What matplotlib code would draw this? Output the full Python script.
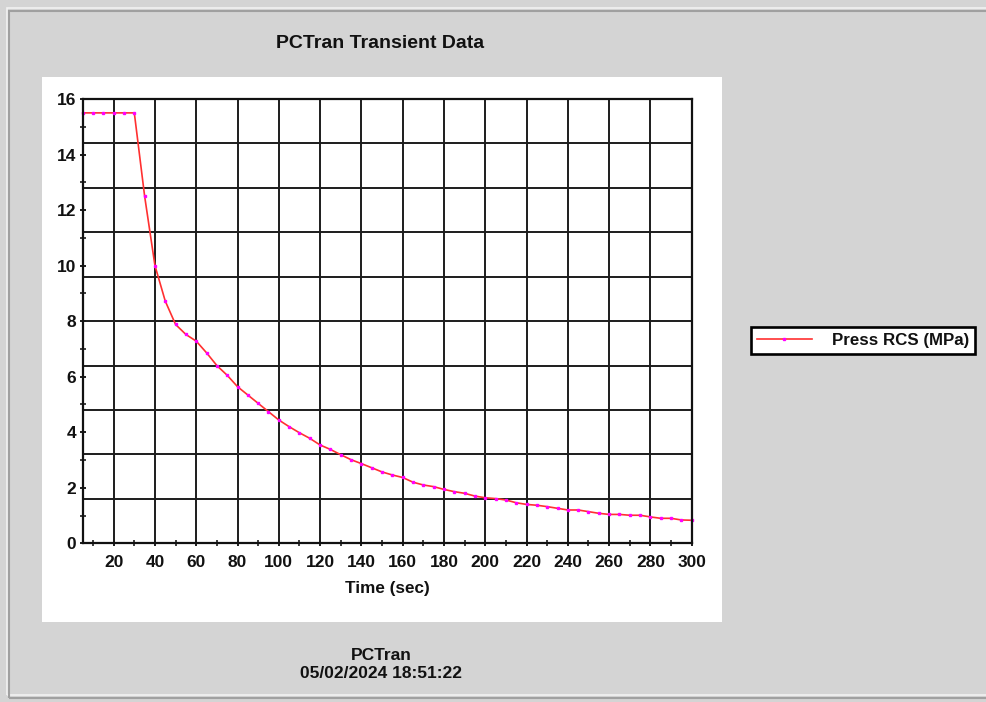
import matplotlib
matplotlib.use("Agg")
import matplotlib.pyplot as plt
import numpy as np
from matplotlib.patches import Rectangle

# ---------------- data ----------------
time_sec = [5, 10, 15, 20, 25, 30, 35, 40, 45, 50,
            55, 60, 65, 70, 75, 80, 85, 90, 95, 100,
            105, 110, 115, 120, 125, 130, 135, 140, 145, 150,
            155, 160, 165, 170, 175, 180, 185, 190, 195, 200,
            205, 210, 215, 220, 225, 230, 235, 240, 245, 250,
            255, 260, 265, 270, 275, 280, 285, 290, 295, 300]
press_rcs = [15.5, 15.5, 15.5, 15.5, 15.5, 15.5, 12.5, 10.0, 8.72, 7.88,
             7.52, 7.28, 6.86, 6.40, 6.05, 5.64, 5.34, 5.04, 4.74, 4.44,
             4.20, 3.98, 3.78, 3.54, 3.38, 3.19, 3.01, 2.87, 2.72, 2.57,
             2.46, 2.37, 2.20, 2.10, 2.04, 1.94, 1.86, 1.80, 1.70, 1.64,
             1.61, 1.56, 1.46, 1.40, 1.37, 1.32, 1.26, 1.20, 1.20, 1.14,
             1.08, 1.04, 1.04, 1.01, 1.01, 0.95, 0.90, 0.90, 0.84, 0.83]

x_major_ticks = [20, 40, 60, 80, 100, 120, 140, 160, 180, 200, 220, 240, 260, 280, 300]
y_major_ticks = [0, 2, 4, 6, 8, 10, 12, 14, 16]

title_text = "PCTran Transient Data"
xlabel_text = "Time (sec)"
series_label = "Press RCS (MPa)"
footer_lines = ["PCTran", "05/02/2024 18:51:22"]

# ---------------- figure ----------------
W, H = 987, 702
FONT = ["Liberation Sans", "DejaVu Sans"]
plt.rcParams['font.family'] = FONT
plt.rcParams['font.weight'] = 'bold'

fig = plt.figure(figsize=(W / 100, H / 100), dpi=100)
fig.patch.set_facecolor('#d4d4d4')

def fx(px):
    return px / W

def fy(py):
    return (H - py) / H

# sunken outer frame
fig.patches.append(Rectangle((fx(7), fy(695)), fx(990) - fx(7), fy(8) - fy(695),
                             transform=fig.transFigure, fill=False,
                             edgecolor='#f2f2f2', linewidth=1.2, zorder=-2))
fig.patches.append(Rectangle((fx(9), fy(697.5)), fx(995) - fx(9), fy(11) - fy(697.5),
                             transform=fig.transFigure, fill=False,
                             edgecolor='#a0a0a0', linewidth=1.5, zorder=-2))

# white chart panel
fig.patches.append(Rectangle((fx(42), fy(622)), fx(722) - fx(42), fy(77) - fy(622),
                             transform=fig.transFigure, facecolor='white',
                             edgecolor='none', zorder=-1))

ax = fig.add_axes([fx(82.7), fy(543.3), fx(691.7) - fx(82.7), fy(99) - fy(543.3)])
ax.set_zorder(5)
ax.set_facecolor('white')

ax.set_xlim(5, 300)
ax.set_ylim(0, 16)

# grid: vertical at major x ticks, horizontal at tenths of the y range
grid_kw = dict(color='#1c1c1c', linewidth=1.4, zorder=1)
for xv in x_major_ticks[:-1]:
    ax.axvline(xv, **grid_kw)
for yv in np.linspace(0, 16, 11)[1:-1]:
    ax.axhline(yv, **grid_kw)

ax.plot(time_sec, press_rcs, color='#ff3030', linewidth=1.2, zorder=3,
        marker='s', markersize=2.0, markerfacecolor='#ff00ff',
        markeredgecolor='#ff00ff', label=series_label, clip_on=False)

ax.set_xticks(x_major_ticks)
ax.set_xticks([v + 10 for v in [0] + x_major_ticks[:-1]], minor=True)
ax.set_yticks(y_major_ticks)
ax.set_yticks([v + 1 for v in y_major_ticks[:-1]], minor=True)
ax.set_xticklabels([str(v) for v in x_major_ticks])
ax.set_yticklabels([str(v) for v in y_major_ticks])

ax.tick_params(axis='both', which='major', direction='inout', length=5, width=1.4,
               color='#1c1c1c', labelsize=12.5)
ax.tick_params(axis='y', which='major', pad=2)
ax.tick_params(axis='x', which='major', pad=6)
ax.tick_params(axis='both', which='minor', direction='inout', length=5, width=1.2,
               color='#1c1c1c')
for lab in ax.get_xticklabels() + ax.get_yticklabels():
    lab.set_fontweight('bold')
    lab.set_family(FONT)
    lab.set_color('#111111')

for sp in ax.spines.values():
    sp.set_linewidth(1.6)
    sp.set_color('#111111')
    sp.set_zorder(4)

# texts
fig.text(fx(380), fy(43.5), title_text, ha='center', va='center',
         fontsize=14, fontweight='bold', color='#111111')
fig.text(fx(387), fy(589), xlabel_text, ha='center', va='center',
         fontsize=12.3, fontweight='bold', color='#111111')
fig.text(fx(381), fy(655), footer_lines[0], ha='center', va='center',
         fontsize=12.5, fontweight='bold', color='#111111')
fig.text(fx(381), fy(673.5), footer_lines[1], ha='center', va='center',
         fontsize=12.5, fontweight='bold', color='#111111')

# legend
handles, labels = ax.get_legend_handles_labels()
leg = fig.legend(handles, labels, loc='center',
                 bbox_to_anchor=(fx(863), fy(340.5)),
                 fontsize=12.2, frameon=True, fancybox=False, shadow=False,
                 handlelength=3.25, handletextpad=1.2, borderpad=0.35,
                 markerscale=1.0, numpoints=1)
leg.get_frame().set_edgecolor('black')
leg.get_frame().set_linewidth(1.9)
leg.get_frame().set_facecolor('white')
leg.get_frame().set_alpha(1)
for t in leg.get_texts():
    t.set_fontweight('bold')
    t.set_color('#111111')

fig.savefig('out.png', dpi=100, facecolor=fig.get_facecolor())
